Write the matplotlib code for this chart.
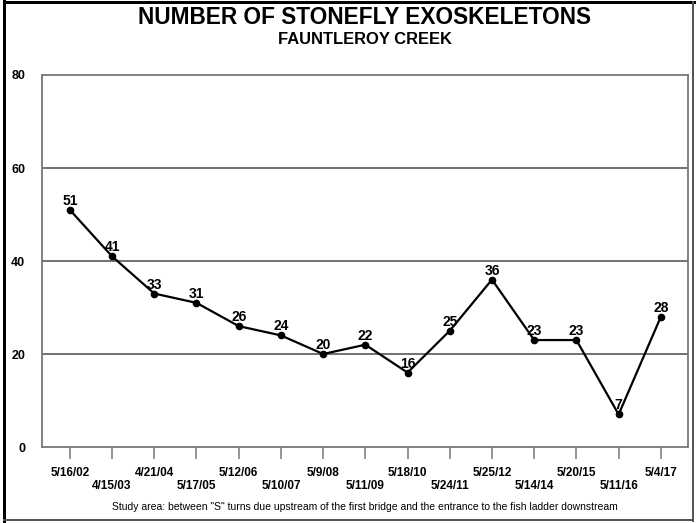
import matplotlib
matplotlib.use('Agg')
import matplotlib.pyplot as plt
from matplotlib.patches import Rectangle

plt.rcParams['font.family'] = ['Liberation Sans', 'DejaVu Sans']

# Survey dates and exoskeleton counts
dates = ['5/16/02', '4/15/03', '4/21/04', '5/17/05', '5/12/06', '5/10/07', '5/9/08',
         '5/11/09', '5/18/10', '5/24/11', '5/25/12', '5/14/14', '5/20/15', '5/11/16', '5/4/17']
counts = [51, 41, 33, 31, 26, 24, 20, 22, 16, 25, 36, 23, 23, 7, 28]
y_ticks = [0, 20, 40, 60, 80]

title = 'NUMBER OF STONEFLY EXOSKELETONS'
subtitle = 'FAUNTLEROY CREEK'
footer = 'Study area: between "S" turns due upstream of the first bridge and the entrance to the fish ladder downstream'

spine_col = '#777777'
grid_col = '#4a4a4a'

fig = plt.figure(figsize=(6.96, 5.23), dpi=100)
ax = fig.add_axes([0.0603, 0.1453, 0.928, 0.7113])

x = list(range(len(counts)))
ax.plot(x, counts, color='black', lw=1.6, marker='o', ms=4.5, zorder=3)

for xi, v in zip(x, counts):
    ax.annotate(str(v), (xi, v), xytext=(0, 3.6), textcoords='offset points',
                ha='center', va='baseline', fontsize=10, fontweight='bold', zorder=4)

ax.set_xlim(-0.66, 14.64)
ax.set_ylim(0, 80)

# horizontal reference lines
for yv in y_ticks[1:-1]:
    ax.axhline(yv, color=grid_col, lw=1.1, zorder=1)

for s in ax.spines.values():
    s.set_color(spine_col)
    s.set_linewidth(1.3)

ax.set_yticks(y_ticks)
ax.set_yticklabels([str(t) for t in y_ticks], fontsize=9, fontweight='bold')
ax.tick_params(axis='y', length=0, pad=12)

ax.set_xticks(x)
ax.set_xticklabels([])
ax.tick_params(axis='x', direction='out', length=8.5, width=1.1, color=spine_col)

# staggered date labels
for i, d in enumerate(dates):
    off = -20.9 if i % 2 == 0 else -29.9
    ax.annotate(d, xy=(i, 0), xycoords=('data', 'axes fraction'), xytext=(0, off),
                textcoords='offset points', ha='center', va='baseline',
                fontsize=8.5, fontweight='bold', annotation_clip=False)

cx = (0.0603 + 0.0603 + 0.928) / 2
fig.text(cx, 1 - 24 / 523, title, ha='center', va='baseline', fontsize=16.3, fontweight='bold')
fig.text(cx, 1 - 43.5 / 523, subtitle, ha='center', va='baseline', fontsize=11.9, fontweight='bold')
fig.text(cx, 1 - 507 / 523, footer, ha='center', va='center', fontsize=7.45)

# outer frame: heavy on top/left, lighter on right/bottom (pixel boxes)
W, H = 696, 523
frame = [
    (3, 0, 3, 523, 'black'),     # left
    (3, 1, 693, 3, 'black'),     # top
    (692, 1, 2, 521, '#555555'), # right
    (3, 519, 691, 2, '#555555'), # bottom
]
for px, py, pw, ph, c in frame:
    fig.patches.append(Rectangle((px / W, 1 - (py + ph) / H), pw / W, ph / H,
                                 transform=fig.transFigure, facecolor=c,
                                 edgecolor='none', zorder=5))

fig.savefig('out.png', dpi=100)
